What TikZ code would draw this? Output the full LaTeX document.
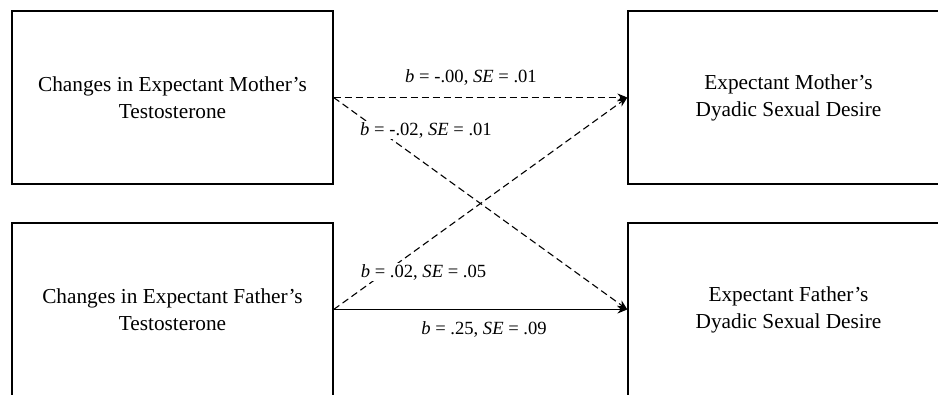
\documentclass[tikz,border=0pt]{standalone}
\usepackage{fontspec}
\setmainfont{Liberation Serif}
\usetikzlibrary{arrows.meta}
\tikzset{
  varbox/.style={draw, line width=1.3pt, minimum width=321pt, minimum height=173pt,
    inner sep=0pt, align=center, font=\fontsize{21.3}{27}\selectfont},
  effect/.style={line width=1.1pt, -{Stealth[length=10pt, width=8pt]}},
  coef/.style={fill=white, inner sep=1.5pt, font=\fontsize{18.6}{21}\selectfont}
}
\begin{document}
\begin{tikzpicture}[x=1pt, y=-1pt]
        % Frame
        \useasboundingbox (0,0) rectangle (938,395);
        \clip (0,0) rectangle (938,395);
        % Predictors
        \node[varbox] (mT) at (172.5,97.5) {Changes in Expectant Mother’s\\Testosterone};
        \node[varbox] (fT) at (172.5,309.5) {Changes in Expectant Father’s\\Testosterone};
        % Outcomes
        \node[varbox] (mD) at (788.5,97.5) {Expectant Mother’s\\Dyadic Sexual Desire};
        \node[varbox] (fD) at (788.5,309.5) {Expectant Father’s\\Dyadic Sexual Desire};
        % Paths
        \draw[effect, dashed, dash pattern=on 7pt off 4pt] (mT.east) -- (mD.west);
        \draw[effect, dashed, dash pattern=on 7pt off 4pt] (mT.east) -- (fD.west);
        \draw[effect, dashed, dash pattern=on 7pt off 4pt] (fT.east) -- (mD.west);
        \draw[effect] (fT.east) -- (fD.west);
        % Coefficients
        \node[coef] (c1) at (471,77) {\textit{b} = -.00, \textit{SE} = .01};
        \node[coef] (c2) at (426,130) {\textit{b} = -.02, \textit{SE} = .01};
        \node[coef] (c3) at (423.5,272) {\textit{b} = .02, \textit{SE} = .05};
        \node[coef] (c4) at (484,329) {\textit{b} = .25, \textit{SE} = .09};
\end{tikzpicture}
\end{document}
